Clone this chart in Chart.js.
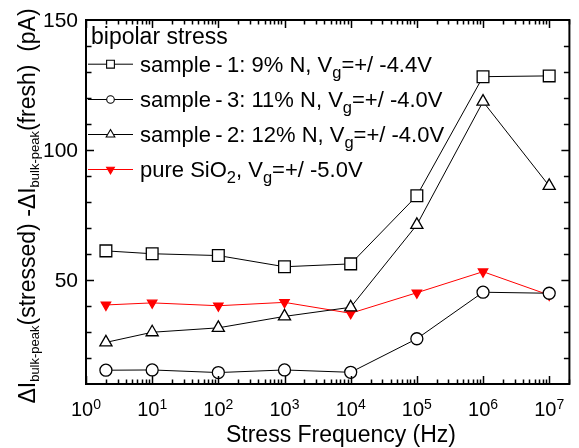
<!DOCTYPE html>
<html><head><meta charset="utf-8">
<script src="https://cdn.jsdelivr.net/npm/chart.js@4/dist/chart.umd.min.js"></script>
<style>html,body{margin:0;padding:0;background:#fff}#wrap{width:579px;height:448px;position:relative}</style>
</head><body><div id="wrap"><canvas id="c" width="579" height="448"></canvas></div>
<script>
// ---- data ----
const frequencies = [2, 10, 100, 1000, 10000, 100000, 1000000, 10000000];
const sample1 = [61.2, 60.1, 59.4, 55.1, 56.2, 82.4, 128.2, 128.5];
const sample3 = [15.3, 15.4, 14.4, 15.4, 14.5, 27.4, 45.3, 44.9];
const sample2 = [26.0, 29.9, 31.6, 36.0, 39.5, 71.2, 118.6, 86.2];
const pureSiO2 = [40.4, 41.2, 40.1, 41.4, 37.2, 45.1, 53.2, 44.2];
const xTickExponents = [0, 1, 2, 3, 4, 5, 6, 7];
const yTickLabels = [50, 100, 150];
const legendTitle = "bipolar stress";
const legendLabels = [
  [{t: "sample\u2009-\u20091: 9% N, V"}, {t: "g", sub: true}, {t: "=+/ -4.4V"}],
  [{t: "sample\u2009-\u20093: 11% N, V"}, {t: "g", sub: true}, {t: "=+/ -4.0V"}],
  [{t: "sample\u2009-\u20092: 12% N, V"}, {t: "g", sub: true}, {t: "=+/ -4.0V"}],
  [{t: "pure SiO"}, {t: "2", sub: true}, {t: ", V"}, {t: "g", sub: true}, {t: "=+/ -5.0V"}]
];
const xTitle = "Stress Frequency (Hz)";
const yTitle = [{t: "\u0394I"}, {t: "bulk-peak", sub: true}, {t: "(stressed) -\u0394I"}, {t: "bulk-peak", sub: true}, {t: "(fresh)  (pA)"}];

const FONT = '"Liberation Sans", Arial, Helvetica, sans-serif';

function mk(arr) { return frequencies.map((f, i) => ({x: f, y: arr[i]})); }

const styles = [
  {color: '#000', style: 'rect', r: 8.3, rot: 0, fill: '#fff', lr: 5.5},
  {color: '#000', style: 'circle', r: 6, rot: 0, fill: '#fff', lr: 3.8},
  {color: '#000', style: 'triangle', r: 7, rot: 0, fill: '#fff', lr: 5},
  {color: '#ff0000', style: 'triangle', r: 5.4, rot: 180, fill: '#ff0000', lr: 4.5}
];
const series = [sample1, sample3, sample2, pureSiO2];

const datasets = series.map((s, i) => ({
  data: mk(s),
  borderColor: styles[i].color,
  borderWidth: 1,
  pointStyle: styles[i].style,
  pointRadius: styles[i].r,
  pointRotation: styles[i].rot,
  pointBackgroundColor: styles[i].fill,
  pointBorderColor: styles[i].color,
  pointBorderWidth: 1.3,
  fill: false,
  tension: 0
}));

function drawRich(ctx, parts, x, y, size, subSize, subDy) {
  let cx = x;
  for (const p of parts) {
    const s = p.sub ? subSize : size;
    ctx.font = s + 'px ' + FONT;
    ctx.fillText(p.t, cx, y + (p.sub ? subDy : 0));
    cx += ctx.measureText(p.t).width;
  }
  return cx - x;
}
function richWidth(ctx, parts, size, subSize) {
  let w = 0;
  for (const p of parts) {
    ctx.font = (p.sub ? subSize : size) + 'px ' + FONT;
    w += ctx.measureText(p.t).width;
  }
  return w;
}

const decor = {
  id: 'decor',
  afterDraw(chart) {
    const ctx = chart.ctx;
    const a = chart.chartArea;
    const xs = chart.scales.x, ys = chart.scales.y;
    ctx.save();
    ctx.strokeStyle = '#000';
    ctx.fillStyle = '#000';
    // frame
    ctx.lineWidth = 2;
    ctx.strokeRect(a.left, a.top, a.right - a.left, a.bottom - a.top);
    ctx.lineWidth = 1.5;
    ctx.beginPath();
    // x ticks (inward, top and bottom)
    for (const e of xTickExponents) {
      for (let k = 1; k <= 9; k++) {
        const v = k * Math.pow(10, e);
        if (v < xs.min || v > xs.max) continue;
        const px = Math.round(xs.getPixelForValue(v)) + 0.5;
        const len = k === 1 ? 8 : 4.5;
        ctx.moveTo(px, a.bottom); ctx.lineTo(px, a.bottom - len);
        ctx.moveTo(px, a.top); ctx.lineTo(px, a.top + len);
      }
    }
    // y ticks (inward, left and right)
    for (let v = 20; v <= 140; v += 10) {
      const py = Math.round(ys.getPixelForValue(v)) + 0.5;
      const len = v % 50 === 0 ? 8 : 5.5;
      ctx.moveTo(a.left, py); ctx.lineTo(a.left + len, py);
      ctx.moveTo(a.right, py); ctx.lineTo(a.right - len, py);
    }
    ctx.stroke();

    // y tick labels
    ctx.textBaseline = 'middle';
    ctx.textAlign = 'right';
    ctx.font = '21px ' + FONT;
    for (const v of yTickLabels) {
      ctx.fillText(String(v), a.left - 8, ys.getPixelForValue(v) + 1);
    }
    // x tick labels 10^n
    ctx.textBaseline = 'alphabetic';
    ctx.textAlign = 'left';
    for (const e of xTickExponents) {
      const px = xs.getPixelForValue(Math.pow(10, e));
      ctx.font = '20px ' + FONT;
      const wb = ctx.measureText('10').width;
      ctx.font = '14px ' + FONT;
      const ws = ctx.measureText(String(e)).width;
      const x0 = px - (wb + ws) / 2;
      ctx.font = '20px ' + FONT;
      ctx.fillText('10', x0, 416);
      ctx.font = '14px ' + FONT;
      ctx.fillText(String(e), x0 + wb, 408.5);
    }
    // x title
    ctx.font = '23px ' + FONT;
    ctx.textAlign = 'center';
    ctx.fillText(xTitle, 341, 442);
    // y title (rotated)
    ctx.textAlign = 'left';
    ctx.save();
    ctx.translate(35, 206);
    ctx.rotate(-Math.PI / 2);
    const yw = richWidth(ctx, yTitle, 23, 13);
    drawRich(ctx, yTitle, -yw / 2, 0, 23, 13, 4);
    ctx.restore();

    // legend
    ctx.font = '23px ' + FONT;
    ctx.fillText(legendTitle, 91, 44);
    const baselines = [71.7, 107, 142, 177];
    for (let i = 0; i < legendLabels.length; i++) {
      const st = styles[i];
      const ly = baselines[i] - 7.5;
      ctx.strokeStyle = st.color;
      ctx.lineWidth = 1;
      ctx.beginPath();
      ctx.moveTo(88, ly); ctx.lineTo(133, ly);
      ctx.stroke();
      ctx.fillStyle = st.fill;
      ctx.lineWidth = 1.1;
      Chart.helpers.drawPoint(ctx, {pointStyle: st.style, radius: st.lr, rotation: st.rot, borderWidth: 1.1}, 110.5, ly);
      ctx.fillStyle = '#000';
      drawRich(ctx, legendLabels[i], 140, baselines[i], 22, 16.5, 6);
    }
    ctx.restore();
  }
};

new Chart(document.getElementById('c'), {
  type: 'line',
  data: {datasets},
  options: {
    responsive: false,
    animation: false,
    devicePixelRatio: 1,
    layout: {padding: {left: 86, top: 20, right: 4, bottom: 64}},
    plugins: {legend: {display: false}, tooltip: {enabled: false}},
    scales: {
      x: {type: 'logarithmic', min: 1, max: 2.02e7, display: false},
      y: {type: 'linear', min: 10, max: 150, display: false}
    }
  },
  plugins: [decor]
});
</script>
</body></html>
